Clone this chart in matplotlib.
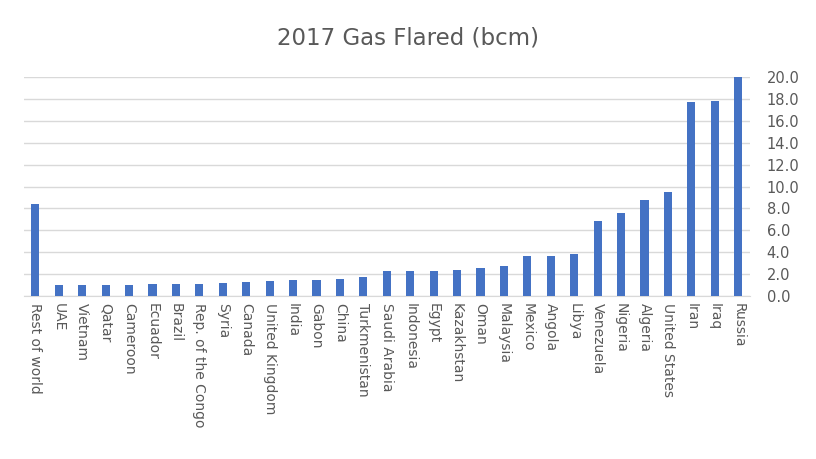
import matplotlib
matplotlib.use("Agg")
import matplotlib.pyplot as plt
from matplotlib.ticker import FormatStrFormatter

countries = ["Russia", "Iraq", "Iran", "United States", "Algeria", "Nigeria",
             "Venezuela", "Libya", "Angola", "Mexico", "Malaysia", "Oman",
             "Kazakhstan", "Egypt", "Indonesia", "Saudi Arabia", "Turkmenistan",
             "China", "Gabon", "India", "United Kingdom", "Canada", "Syria",
             "Rep. of the Congo", "Brazil", "Ecuador", "Cameroon", "Qatar",
             "Vietnam", "UAE", "Rest of world"]
flared = [20.0, 17.8, 17.7, 9.5, 8.8, 7.6, 6.9, 3.8, 3.7, 3.7, 2.7, 2.6,
          2.4, 2.3, 2.3, 2.3, 1.7, 1.6, 1.5, 1.5, 1.4, 1.3, 1.2, 1.1, 1.1,
          1.1, 1.0, 1.0, 1.0, 1.0, 8.4]
yticks = [0, 2, 4, 6, 8, 10, 12, 14, 16, 18, 20]
title = "2017 Gas Flared (bcm)"

text_col = "#595959"
fig = plt.figure(figsize=(8.16, 4.59), dpi=100)
ax = fig.add_axes([0.029, 0.355, 0.890, 0.477])
x = list(range(len(countries)))
ax.bar(x, flared, width=0.35, color="#4472C4", zorder=3)
ax.set_xlim(-0.5, len(countries) - 0.5)
ax.invert_xaxis()
ax.set_ylim(0, 20)
ax.set_yticks(yticks)
ax.yaxis.set_major_formatter(FormatStrFormatter("%.1f"))
ax.yaxis.tick_right()
ax.grid(axis="y", color="#d9d9d9", linewidth=1, zorder=0)
for s in ["top", "left", "right"]:
    ax.spines[s].set_visible(False)
ax.spines["bottom"].set_color("#d9d9d9")
ax.set_xticks(x)
ax.set_xticklabels(countries, rotation=-90, ha="center", va="top",
                   fontsize=10, color=text_col)
ax.tick_params(axis="both", length=0)
ax.tick_params(axis="y", labelsize=10.5, labelcolor=text_col, pad=12)
ax.tick_params(axis="x", pad=5)
fig.text(0.5, 0.918, title, ha="center", va="center", fontsize=16.5, color=text_col)
fig.savefig("out.png", dpi=100)
